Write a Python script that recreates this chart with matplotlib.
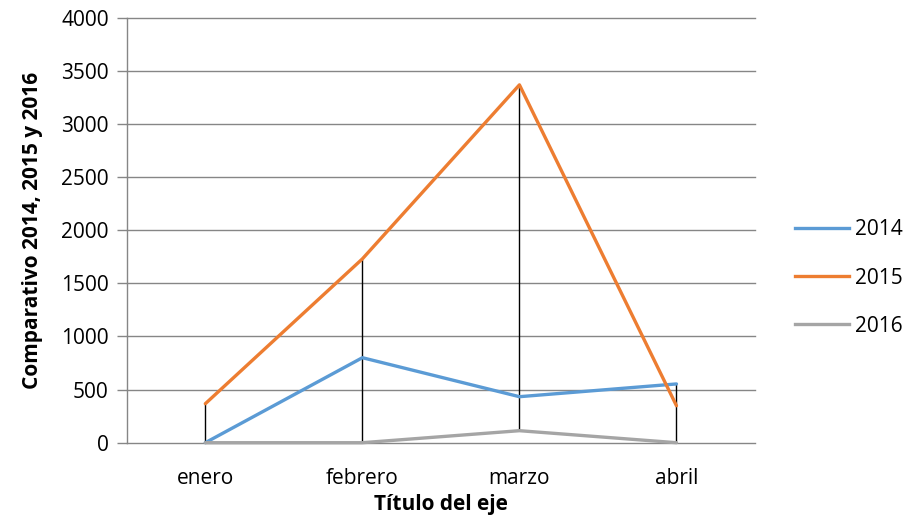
import matplotlib
matplotlib.use("Agg")
import matplotlib.pyplot as plt
from matplotlib.lines import Line2D
import numpy as np

categories = ["enero", "febrero", "marzo", "abril"]
series_names = ["2014", "2015", "2016"]
v2014 = [0, 800, 433, 553]
v2015 = [367, 1730, 3368, 348]
v2016 = [0, 0, 113, 0]
yticks = [0, 500, 1000, 1500, 2000, 2500, 3000, 3500, 4000]
colors = ["#5B9BD5", "#ED7D31", "#A5A5A5"]

plt.rcParams['font.family'] = ['Open Sans', 'DejaVu Sans']
FS = 15

fig = plt.figure(figsize=(9.12, 5.30), dpi=100)
ax = fig.add_axes([126.8/912, 1-442.7/530, (755-126.8)/912, (442.7-17.7)/530])

x = np.arange(len(categories))
data = [v2014, v2015, v2016]

# gridlines (drawn as lines so the zero line is not clipped)
for t in yticks:
    ax.axhline(t, color="#868686", lw=1.0, zorder=0, clip_on=False)

# high-low lines
arr = np.array(data)
ax.vlines(x, arr.min(axis=0), arr.max(axis=0), color="black", lw=1.0, zorder=2)

for vals, c, name in zip(data, colors, series_names):
    ax.plot(x, vals, color=c, lw=2.4, solid_capstyle="round", solid_joinstyle="round",
            zorder=3, label=name, clip_on=False)

ax.set_xlim(-0.5, len(categories)-0.5)
ax.set_ylim(0, 4000)
ax.set_yticks(yticks)
ax.set_yticklabels([str(t) for t in yticks])
ax.set_xticks(x)
ax.set_xticklabels(categories)
for s in ["top", "right", "bottom"]:
    ax.spines[s].set_visible(False)
ax.spines["left"].set_color("#868686")
ax.spines["left"].set_linewidth(1.0)
ax.tick_params(axis="y", length=7, color="#868686", width=1.0, pad=6, labelsize=FS)
ax.tick_params(axis="x", length=0, pad=18, labelsize=FS)

ax.set_ylabel("Comparativo 2014, 2015 y 2016", fontsize=FS, fontweight="bold", labelpad=13)
ax.set_xlabel("Título del eje", fontsize=FS, fontweight="bold", labelpad=4)

handles = [Line2D([0], [0], color=c, lw=2.4) for c in colors]
leg = fig.legend(handles, series_names, loc="center left", bbox_to_anchor=(795/912, 1-278/530),
                 frameon=False, fontsize=FS, handlelength=2.6, handletextpad=0.3,
                 labelspacing=1.3, borderpad=0, borderaxespad=0)

fig.savefig("out.png", dpi=100)
